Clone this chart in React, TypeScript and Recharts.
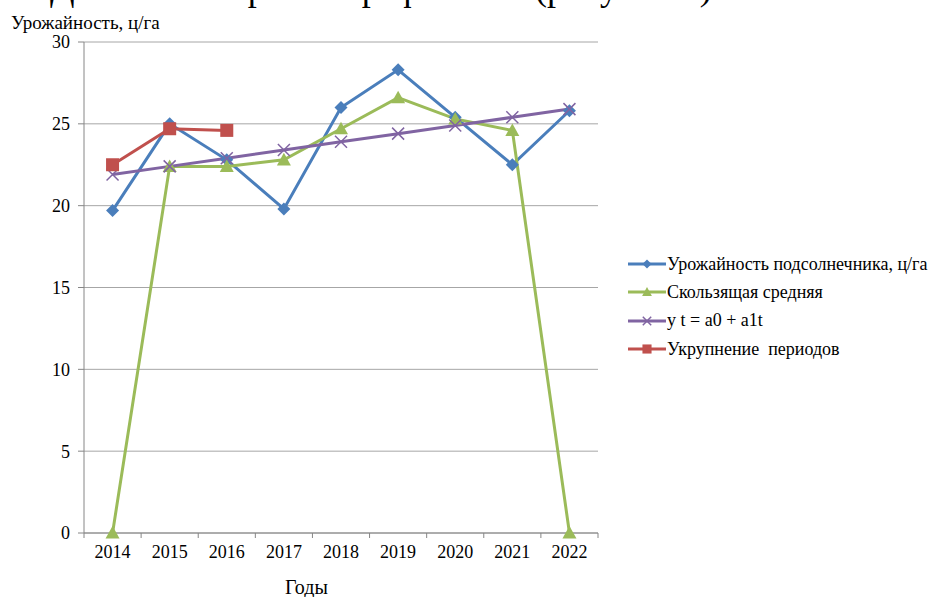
import React from "react";
import { LineChart, Line, XAxis, YAxis, CartesianGrid } from "recharts";

const years = ["2014", "2015", "2016", "2017", "2018", "2019", "2020", "2021", "2022"];
const yieldValues = [19.7, 25.0, 22.8, 19.8, 26.0, 28.3, 25.4, 22.5, 25.8];
const movingAvg = [0, 22.4, 22.4, 22.8, 24.7, 26.6, 25.3, 24.6, 0];
const trend = [21.9, 22.4, 22.9, 23.4, 23.9, 24.4, 24.9, 25.4, 25.9];
const enlarged: (number | null)[] = [22.5, 24.7, 24.6, null, null, null, null, null, null];
const yTicks = [0, 5, 10, 15, 20, 25, 30];

const BLUE = "#4A7EBB";
const GREEN = "#9BBB59";
const PURPLE = "#8064A2";
const RED = "#C0504D";
const FONT = "Liberation Serif";

const W = 928;
const H = 597;
const X_H = 30;
const M = { top: 42, right: 330, bottom: 597 - 533 - X_H, left: 0 };
const Y_W = 84;
const BAND = (W - M.right - Y_W) / years.length;

const data = years.map((year, i) => ({
  year,
  yield: yieldValues[i],
  avg: movingAvg[i],
  trend: trend[i],
  enlarged: enlarged[i],
}));

type Marker = "diamond" | "triangle" | "cross" | "square";

function markerShape(kind: Marker, cx: number, cy: number, color: string, s = 1) {
  if (kind === "diamond") {
    const r = 6.5 * s;
    return <path d={`M${cx} ${cy - r}L${cx + r} ${cy}L${cx} ${cy + r}L${cx - r} ${cy}Z`} fill={color} />;
  }
  if (kind === "triangle") {
    const r = 7 * s;
    return <path d={`M${cx} ${cy - r}L${cx + r} ${cy + r * 0.8}L${cx - r} ${cy + r * 0.8}Z`} fill={color} />;
  }
  if (kind === "square") {
    const r = 6.5 * s;
    return <rect x={cx - r} y={cy - r} width={r * 2} height={r * 2} fill={color} />;
  }
  const r = 6 * s;
  return (
    <path
      d={`M${cx - r} ${cy - r}L${cx + r} ${cy + r}M${cx + r} ${cy - r}L${cx - r} ${cy + r}`}
      stroke={color}
      strokeWidth={1.5}
      fill="none"
    />
  );
}

const makeDot = (kind: Marker, color: string) => (props: any) => {
  const { cx, cy, index } = props;
  if (cx == null || cy == null || props.value == null) return <g key={`n${index}`} />;
  return <g key={`d${index}`}>{markerShape(kind, cx, cy, color)}</g>;
};

const XTick = (props: any) => {
  const { x, y, payload, index } = props;
  const last = index === years.length - 1;
  return (
    <g>
      <line x1={x - BAND / 2} y1={y} x2={x - BAND / 2} y2={y + 5} stroke="#868686" />
      {last && <line x1={x + BAND / 2} y1={y} x2={x + BAND / 2} y2={y + 5} stroke="#868686" />}
      <text x={x} y={y + 25} textAnchor="middle" fontFamily={FONT} fontSize={18} fill="#000">
        {payload.value}
      </text>
    </g>
  );
};

const legendItems: { label: string; color: string; kind: Marker }[] = [
  { label: "Урожайность подсолнечника, ц/га", color: BLUE, kind: "diamond" },
  { label: "Скользящая средняя", color: GREEN, kind: "triangle" },
  { label: "y t = a0 + a1t", color: PURPLE, kind: "cross" },
  { label: "Укрупнение  периодов", color: RED, kind: "square" },
];

const LegendBox = () => (
  <div style={{ position: "absolute", left: 628, top: 250, fontFamily: FONT, fontSize: 18, color: "#000" }}>
    {legendItems.map((it) => (
      <div key={it.label} style={{ display: "flex", alignItems: "center", height: 28.3, whiteSpace: "pre" }}>
        <svg width={38} height={16} style={{ marginRight: 1 }}>
          <line x1={0} y1={8} x2={38} y2={8} stroke={it.color} strokeWidth={3} />
          {markerShape(it.kind, 19, 8, it.color, 0.7)}
        </svg>
        <span>{it.label}</span>
      </div>
    ))}
  </div>
);

export default function App() {
  return (
    <div style={{ position: "absolute", left: 0, top: 0, width: W, height: H, background: "#fff", overflow: "hidden" }}>
      <div
        style={{
          position: "absolute",
          left: 50,
          top: -30,
          fontFamily: FONT,
          fontSize: 36,
          lineHeight: "36px",
          whiteSpace: "nowrap",
          color: "#000",
        }}
      >
        Данные изобразим графически (рисунок 1)
      </div>
      <div
        style={{
          position: "absolute",
          left: 11,
          top: 13,
          fontFamily: FONT,
          fontSize: 19,
          lineHeight: "19px",
          color: "#000",
          whiteSpace: "nowrap",
        }}
      >
        Урожайность, ц/га
      </div>
      <div
        style={{
          position: "absolute",
          left: 285,
          top: 577,
          fontFamily: FONT,
          fontSize: 20,
          lineHeight: "20px",
          color: "#000",
        }}
      >
        Годы
      </div>
      <LineChart width={W} height={H} data={data} margin={M} style={{ position: "absolute", left: 0, top: 0 }}>
        <CartesianGrid horizontal vertical={false} stroke="#A6A6A6" strokeWidth={1} />
        <XAxis
          dataKey="year"
          height={X_H}
          padding={{ left: BAND / 2, right: BAND / 2 }}
          tickLine={false}
          tickSize={0}
          tickMargin={0}
          tick={<XTick />}
          stroke="#868686"
          interval={0}
        />
        <YAxis
          width={Y_W}
          domain={[0, 30]}
          ticks={yTicks}
          tickSize={6}
          tickMargin={8}
          stroke="#868686"
          tick={{ fill: "#000", fontSize: 18, fontFamily: FONT }}
          interval={0}
        />
        <Line dataKey="yield" stroke={BLUE} strokeWidth={3} dot={makeDot("diamond", BLUE)} isAnimationActive={false} />
        <Line dataKey="avg" stroke={GREEN} strokeWidth={3} dot={makeDot("triangle", GREEN)} isAnimationActive={false} />
        <Line dataKey="trend" stroke={PURPLE} strokeWidth={3} dot={makeDot("cross", PURPLE)} isAnimationActive={false} />
        <Line dataKey="enlarged" stroke={RED} strokeWidth={3} dot={makeDot("square", RED)} isAnimationActive={false} />
      </LineChart>
      <LegendBox />
    </div>
  );
}
